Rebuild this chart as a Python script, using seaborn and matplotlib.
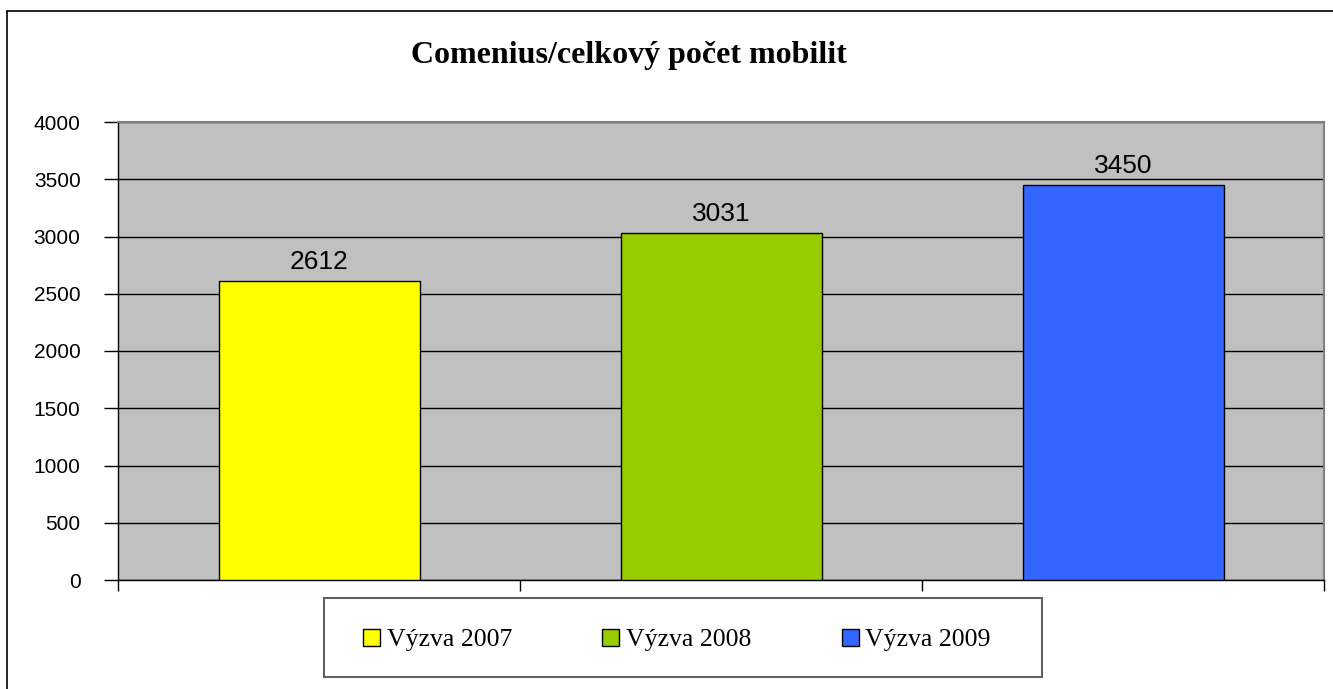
import matplotlib.pyplot as plt
import seaborn as sns
import pandas as pd
from matplotlib.lines import Line2D
from matplotlib.patches import Rectangle

# data
categories = ["Výzva 2007", "Výzva 2008", "Výzva 2009"]
values = [2612, 3031, 3450]
bar_colors = ["#FFFF00", "#99CC00", "#3366FF"]
y_ticks = [0, 500, 1000, 1500, 2000, 2500, 3000, 3500, 4000]

df = pd.DataFrame({"vyzva": categories, "pocet": values})

sns.set_style("white")
plt.rcParams['font.family'] = ['Liberation Sans', 'DejaVu Sans']
plt.rcParams['text.color'] = 'black'
plt.rcParams['ytick.labelcolor'] = 'black'

W, H = 1333, 689
fig = plt.figure(figsize=(W / 100, H / 100), dpi=100)
ax = fig.add_axes([118 / W, 1 - 580 / H, (1324 - 118) / W, (580 - 122) / H])
ax.set_facecolor("#C0C0C0")

sns.barplot(data=df, x="vyzva", y="pocet", hue="vyzva", palette=bar_colors,
            width=0.5, edgecolor="black", linewidth=1, saturation=1,
            legend=True, ax=ax, zorder=3)

handles, labels = ax.get_legend_handles_labels()
ax.get_legend().remove()

ax.set_ylim(0, 4000)
ax.set_xlim(-0.5, 2.5)
ax.set_yticks(y_ticks)
ax.yaxis.grid(True, color="black", linewidth=1, zorder=0)
ax.set_axisbelow(True)
ax.tick_params(axis="y", which="major", left=True, length=10, width=1,
               color="black", pad=17, labelsize=15, labelcolor="black")
ax.set_xticks([])
ax.set_xticks([-0.5, 0.5, 1.5, 2.5], minor=True)
ax.tick_params(axis="x", which="minor", bottom=True, length=8, width=1, color="black")
ax.set_xlabel("")
ax.set_ylabel("")

for side in ["left", "bottom"]:
    ax.spines[side].set_color("black")
    ax.spines[side].set_linewidth(1)
for side in ["top", "right"]:
    ax.spines[side].set_color("#808080")
    ax.spines[side].set_linewidth(1.5)

for cont in ax.containers:
    ax.bar_label(cont, padding=5, fontsize=19, color="black")

fig.text(629 / W, 1 - 56 / H, "Comenius/celkový počet mobilit", ha="center",
         va="center", fontsize=23, fontweight="bold", family="Liberation Serif",
         color="black")

# legend box
fig.patches.append(Rectangle((324 / W, 12 / H), (1042 - 324) / W, (677 - 598) / H,
                             transform=fig.transFigure, facecolor="white",
                             edgecolor="#606060", linewidth=1.5))
fig.legend(handles, labels, loc="center", bbox_to_anchor=(677 / W, 1 - 640 / H),
           ncol=3, frameon=False, prop={"family": "Liberation Serif", "size": 18.5},
           handlelength=0.66, handleheight=0.66, handletextpad=0.27,
           columnspacing=3.5, labelcolor="black")

# outer border (top and left)
fig.lines.append(Line2D([7 / W, 1], [1 - 11 / H, 1 - 11 / H], transform=fig.transFigure,
                        color="black", linewidth=1.2))
fig.lines.append(Line2D([7 / W, 7 / W], [0, 1 - 11 / H], transform=fig.transFigure,
                        color="black", linewidth=1.2))

plt.savefig("out.png", dpi=100)
plt.close()
